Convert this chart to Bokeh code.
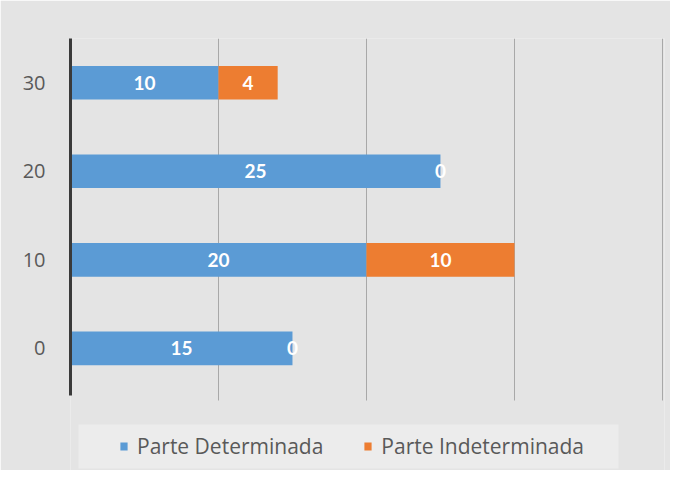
from bokeh.plotting import figure
from bokeh.models import (ColumnDataSource, Legend, LegendItem,
                          Range1d, FixedTicker, BoxAnnotation)
from bokeh.core.properties import value
from bokeh.embed import file_html
from bokeh.resources import INLINE

categories = [0, 10, 20, 30]
determinada = [15, 20, 25, 10]
indeterminada = [0, 10, 0, 4]
series_names = ["Parte Determinada", "Parte Indeterminada"]
x_ticks = [0, 10, 20, 30, 40]

BLUE = "#5B9BD5"
ORANGE = "#ED7D31"
BG = "#e4e4e4"

src = ColumnDataSource(dict(
    cat=categories,
    det=determinada,
    ind=indeterminada,
    det_mid=[d / 2 for d in determinada],
    ind_mid=[d + i / 2 for d, i in zip(determinada, indeterminada)],
    det_lbl=[str(d) for d in determinada],
    ind_lbl=[str(i) for i in indeterminada],
))

p = figure(width=670, height=470,
           y_range=Range1d(-13.8, 35),
           x_range=Range1d(0, 40.14),
           output_backend="svg", toolbar_location=None,
           min_border_left=70, min_border_top=38, min_border_right=6,
           min_border_bottom=0)
p.background_fill_color = BG
p.border_fill_color = BG
p.outline_line_color = None

# legend background panel (frame-relative screen units, y measured upward)
p.add_layout(BoxAnnotation(left=8, right=548, top=46, bottom=2,
                           left_units="screen", right_units="screen",
                           top_units="screen", bottom_units="screen",
                           fill_color="#ececec", fill_alpha=1.0,
                           line_color=None, level="underlay"))

rs = p.hbar_stack(["det", "ind"], y="cat", height=3.8, color=[BLUE, ORANGE],
                  line_color=None, source=src)

txt = dict(text_color="white", text_font=value("Lato"), text_font_size="19px",
           text_font_style="bold", text_align="center", text_baseline="middle")
p.text(x="det_mid", y="cat", text="det_lbl", source=src, **txt)
p.text(x="ind_mid", y="cat", text="ind_lbl", source=src, **txt)

# axes
p.yaxis.ticker = FixedTicker(ticks=categories)
p.yaxis.bounds = (-5.35, 35)
p.yaxis.axis_line_width = 3
p.yaxis.axis_line_color = "#3a3a3a"
p.yaxis.major_tick_line_color = None
p.yaxis.minor_tick_line_color = None
p.yaxis.major_label_text_font = "Open Sans"
p.yaxis.major_label_text_font_size = "20px"
p.yaxis.major_label_text_color = "#595959"
p.yaxis.major_label_standoff = 19

p.xaxis.visible = False

p.xgrid.ticker = FixedTicker(ticks=x_ticks)
p.xgrid.grid_line_color = "#a8a8a8"
p.xgrid.cross_bounds = (-5.9, 35)
p.ygrid.grid_line_color = None

legend = Legend(items=[LegendItem(label=series_names[0], renderers=[rs[0]]),
                       LegendItem(label=series_names[1], renderers=[rs[1]])],
                orientation="horizontal", location=(49, 2),
                background_fill_alpha=0, border_line_color=None,
                label_text_font="Open Sans", label_text_font_size="21px",
                label_text_color="#595959", glyph_width=9, glyph_height=10,
                label_height=44, label_standoff=9, spacing=40,
                padding=0, margin=0)
p.add_layout(legend, "center")

open("out.html", "w").write(file_html(p, INLINE))
